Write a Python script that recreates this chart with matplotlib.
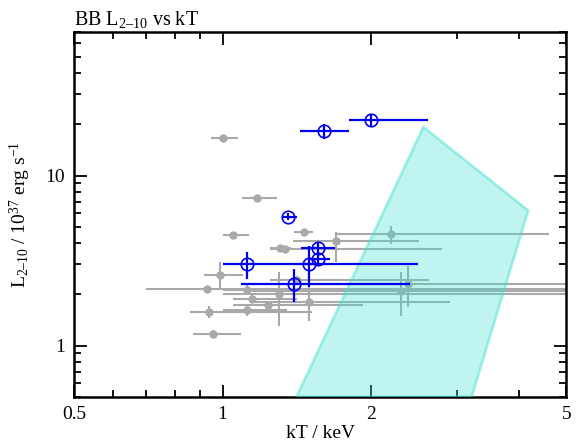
import matplotlib
matplotlib.use('Agg')
import matplotlib.pyplot as plt
from matplotlib.ticker import LogLocator, FixedLocator, NullFormatter, FixedFormatter
import numpy as np

plt.rcParams['font.family'] = ['Liberation Serif', 'DejaVu Serif']
plt.rcParams['mathtext.fontset'] = 'custom'
plt.rcParams['mathtext.rm'] = 'Liberation Serif'
plt.rcParams['mathtext.it'] = 'Liberation Serif:italic'

GRAY = '#a9a9a9'
BLUE = '#0000ee'
CYAN = '#40e0d0'

# grey sample: kT, kT range, luminosity, luminosity range
gray_kt = [1.00, 1.176, 1.048, 1.466, 1.31, 1.34, 2.20, 1.70, 0.988, 0.928,
           1.12, 1.149, 1.30, 1.238, 1.50, 1.12, 0.94, 0.957, 2.30, 2.38, 1.42]
gray_kt_lo = [0.947, 1.096, 1.00, 1.40, 1.25, 1.25, 1.70, 1.393, 0.918, 0.70,
              1.00, 1.05, 1.00, 1.05, 1.15, 1.00, 0.857, 0.87, 1.15, 1.42, 1.25]
gray_kt_hi = [1.073, 1.29, 1.13, 1.53, 1.38, 2.79, 4.61, 2.51, 1.10, 6.0,
              1.26, 1.42, 6.0, 1.93, 2.90, 1.35, 1.52, 1.09, 6.0, 6.0, 2.63]
gray_l = [16.6, 7.36, 4.48, 4.65, 3.74, 3.70, 4.54, 4.11, 2.61, 2.15,
          2.13, 1.88, 2.01, 1.74, 1.81, 1.61, 1.57, 1.17, 2.10, 2.31, 2.42]
gray_l_lo = [16.0, 7.1, 4.35, 4.5, 3.6, 3.55, 3.96, 3.09, 2.18, 2.08,
             2.00, 1.78, 1.31, 1.66, 1.40, 1.50, 1.45, 1.10, 1.50, 1.68, 2.30]
gray_l_hi = [17.2, 7.6, 4.6, 4.8, 3.9, 3.85, 5.08, 4.65, 3.12, 2.22,
             2.30, 2.00, 2.71, 1.83, 2.25, 1.72, 1.70, 1.24, 2.70, 2.95, 2.55]

# blue sample
blue_kt = [2.00, 1.607, 1.36, 1.56, 1.56, 1.50, 1.12, 1.40]
blue_kt_lo = [1.807, 1.436, 1.32, 1.447, 1.50, 1.45, 1.00, 1.09]
blue_kt_hi = [2.61, 1.807, 1.415, 1.69, 1.65, 1.60, 2.50, 2.40]
blue_l = [21.3, 18.2, 5.74, 3.74, 3.23, 3.02, 3.02, 2.31]
blue_l_lo = [19.4, 16.4, 5.5, 3.45, 3.05, 2.20, 2.47, 1.80]
blue_l_hi = [23.1, 20.1, 6.0, 4.05, 3.45, 3.84, 3.56, 2.83]

# model region outline (kT, L)
region_kt = [1.414, 2.56, 4.18, 3.21]
region_l = [0.5, 19.3, 6.23, 0.5]


def asym(v, lo, hi):
    v, lo, hi = np.array(v), np.array(lo), np.array(hi)
    return [v - lo, hi - v]


fig = plt.figure(figsize=(5.81, 4.43), dpi=100)
ax = fig.add_axes([0.128, 0.1045, 0.847, 0.8235])

ax.errorbar(gray_kt, gray_l, xerr=asym(gray_kt, gray_kt_lo, gray_kt_hi),
            yerr=asym(gray_l, gray_l_lo, gray_l_hi), fmt='o', ms=5,
            color=GRAY, ecolor=GRAY, elinewidth=1.5, capsize=0, zorder=2)

ax.fill(region_kt, region_l, facecolor=CYAN, alpha=0.33, edgecolor='none', zorder=3)
ax.fill(region_kt, region_l, facecolor='none', edgecolor=CYAN, alpha=0.45,
        linewidth=2, zorder=3)

ax.errorbar(blue_kt, blue_l, xerr=asym(blue_kt, blue_kt_lo, blue_kt_hi),
            yerr=asym(blue_l, blue_l_lo, blue_l_hi), fmt='o', ms=9,
            mfc='none', mec=BLUE, mew=1.2, color=BLUE, ecolor=BLUE,
            elinewidth=1.6, capsize=0, zorder=4)

ax.set_xscale('log')
ax.set_yscale('log')
ax.set_xlim(0.5, 5)
ax.set_ylim(0.5, 70)

ax.xaxis.set_major_locator(FixedLocator([0.5, 1, 2, 5]))
ax.xaxis.set_major_formatter(FixedFormatter(['0.5', '1', '2', '5']))
ax.xaxis.set_minor_locator(FixedLocator([0.6, 0.7, 0.8, 0.9, 3, 4]))
ax.xaxis.set_minor_formatter(NullFormatter())
ax.yaxis.set_major_locator(FixedLocator([1, 10]))
ax.yaxis.set_major_formatter(FixedFormatter(['1', '10']))
ax.yaxis.set_minor_locator(LogLocator(base=10, subs=np.arange(2, 10)))
ax.yaxis.set_minor_formatter(NullFormatter())

ax.tick_params(which='both', direction='in', top=True, right=True,
               labelsize=14, width=1.3, colors='black')
ax.tick_params(which='major', length=9, pad=7)
ax.tick_params(which='minor', length=5)
for s in ax.spines.values():
    s.set_linewidth(1.8)

ax.set_xlabel('kT / keV', fontsize=14, labelpad=1)
ax.set_ylabel('L$_{2\u201310}$ / 10$^{37}$ erg s$^{-1}$', fontsize=14, labelpad=9)
ax.set_title('BB L$_{2\u201310}$ vs kT', loc='left', fontsize=14.5, pad=5)

fig.savefig('out.png', dpi=100)
